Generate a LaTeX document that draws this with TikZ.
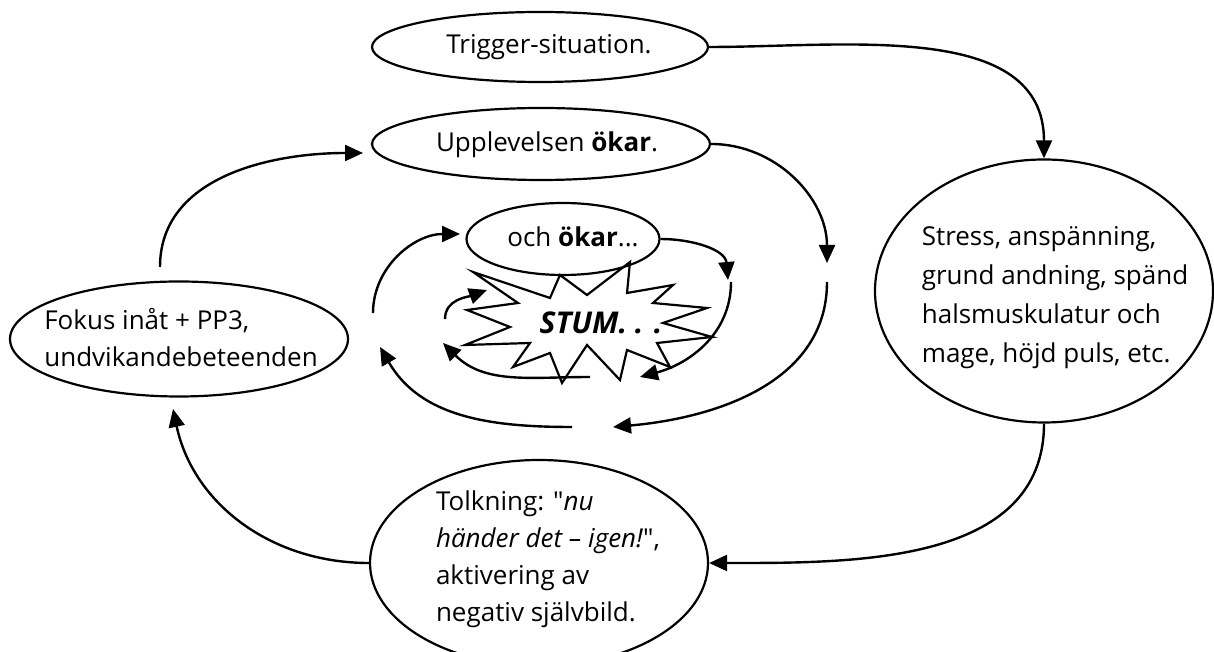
\documentclass[tikz,border=0pt]{standalone}
\usepackage{fontspec}
\setmainfont{Open Sans}[Ligatures=TeXOff]
\usetikzlibrary{arrows.meta, shapes.geometric}

\begin{document}
\begin{tikzpicture}[x=0.5pt, y=0.5pt,
		bubble/.style={ellipse, draw, line width=1.1pt, inner sep=0pt},
		words/.style={align=left, inner sep=0pt, font=\fontsize{13}{18.5}\selectfont},
		flow/.style={line width=1.2pt, -{Triangle[length=9pt, width=8pt]}},
	]
	\useasboundingbox (0,0) rectangle (1214,652);
	\clip (0,0) rectangle (1214,652);

	% the big cycle
	\node[bubble, minimum width=168pt, minimum height=35pt] (trigger) at (540,605) {};
	\node[words] (trigger text) at (549,605) {Trigger-situation.};
	\node[bubble, minimum width=169pt, minimum height=131.5pt] (stress) at (1044,361) {};
	\node[words, font=\fontsize{13}{19.5}\selectfont] (stress text) at (1055,354)
		{Stress, anspänning,\\grund andning, spänd\\halsmuskulatur och\\mage, höjd puls, etc.};
	\node[bubble, minimum width=169pt, minimum height=103pt] (tolkning) at (539,89) {};
	\node[words] (tolkning text) at (548,93)
		{Tolkning: "\textit{nu}\\\textit{händer det – igen!}",\\aktivering av\\negativ självbild.};
	\node[bubble, minimum width=169pt, minimum height=57.5pt] (fokus) at (179,313) {};
	\node[words] (fokus text) at (181,314) {Fokus inåt + PP3,\\undvikandebeteenden};
	\node[bubble, minimum width=169pt, minimum height=36pt] (upplevelse) at (541,508) {};
	\node[words] (upplevelse text) at (547,507) {Upplevelsen \textbf{ökar}.};
	\node[bubble, minimum width=96.5pt, minimum height=36pt] (ochokar) at (563,413) {};
	\node[words] (ochokar text) at (573,415) {och \textbf{ökar}...};

	% the burst
	\node[words, font=\fontsize{15}{18}\selectfont] (stum) at (601,329) {\textbf{\textit{STUM. . .}}};
	\draw[line width=1.1pt] (473,380) -- (550,354) -- (560,377) -- (587,357) -- (630,390)
		-- (627,359) -- (673,367) -- (653,349) -- (707,344) -- (663,329) -- (712,315)
		-- (657,309) -- (670,285) -- (627,302) -- (620,272) -- (587,307) -- (562,269)
		-- (550,299) -- (513,285) -- (530,309) -- (465,307) -- (510,325) -- (467,342)
		-- (518,349) -- cycle;

	% free ends of the broken arcs
	\coordinate (f3) at (173,243);
	\coordinate (u4) at (160,385);
	\coordinate (f4) at (363,499);
	\coordinate (f5) at (827,389);
	\coordinate (u6) at (827,370);
	\coordinate (f6) at (613,225);
	\coordinate (u7) at (572,225);
	\coordinate (f7) at (380,305);
	\coordinate (u8) at (373,339);
	\coordinate (f8) at (460,418);
	\coordinate (f9) at (728,372);
	\coordinate (u10) at (731,370);
	\coordinate (f10) at (640,275);
	\coordinate (u11) at (590,275);
	\coordinate (f11) at (443,309);
	\coordinate (u12) at (445,333);
	\coordinate (f12) at (487,362);

	\draw[flow] (trigger.east) to[out=0, in=90] (stress.north);
	\draw[flow] (stress.south) to[out=-90, in=0] (tolkning.east);
	\draw[flow] (tolkning.west) to[out=180, in=-78] (f3);
	\draw[flow] (u4) to[out=90, in=180] (f4);

	% spiral inwards
	\draw[flow] (upplevelse.east) to[out=0, in=90] (f5);
	\draw[flow] (u6) to[out=-90, in=5] (f6);
	\draw[flow] (u7) to[out=180, in=-60] (f7);
	\draw[flow] (u8) to[out=90, in=180] (f8);
	\draw[flow] (ochokar.east) to[out=0, in=95] (f9);
	\draw[flow] (u10) to[out=-90, in=15] (f10);
	\draw[flow] (u11) to[out=180, in=-45] (f11);
	\draw[flow] (u12) to[out=90, in=200] (f12);
\end{tikzpicture}
\end{document}
